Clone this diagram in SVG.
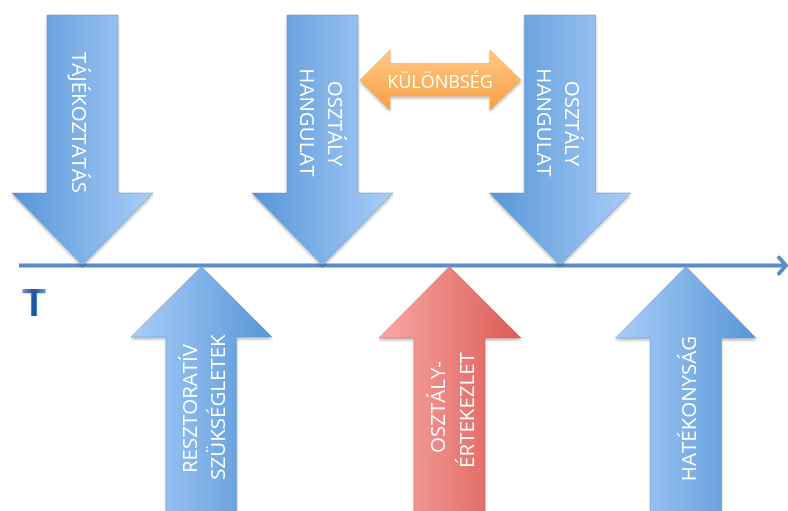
<svg xmlns="http://www.w3.org/2000/svg" width="788" height="511" viewBox="0 0 788 511">
<defs>
<linearGradient id="gDown" x1="0" y1="0" x2="1" y2="0">
<stop offset="0" stop-color="#5796d7"/>
<stop offset="1" stop-color="#a9cdf8"/>
</linearGradient>
<linearGradient id="gUp" x1="0" y1="0" x2="1" y2="0">
<stop offset="0" stop-color="#a9cdf8"/>
<stop offset="1" stop-color="#5796d7"/>
</linearGradient>
<linearGradient id="gRed" x1="0" y1="0" x2="1" y2="0">
<stop offset="0" stop-color="#f9a8a6"/>
<stop offset="1" stop-color="#dc5b54"/>
</linearGradient>
<linearGradient id="gOrange" x1="0" y1="0" x2="0" y2="1">
<stop offset="0" stop-color="#ffc88a"/>
<stop offset="1" stop-color="#f9a040"/>
</linearGradient>
<linearGradient id="gT" x1="0" y1="0" x2="1" y2="0">
<stop offset="0" stop-color="#6a9ee0"/>
<stop offset="0.5" stop-color="#1f4f9e"/>
<stop offset="1" stop-color="#6a9ee0"/>
</linearGradient>
<filter id="sh" x="-10%" y="-10%" width="120%" height="120%">
<feGaussianBlur in="SourceAlpha" stdDeviation="1.5"/>
<feOffset dx="0" dy="1.5" result="b"/>
<feComponentTransfer><feFuncA type="linear" slope="0.3"/></feComponentTransfer>
<feMerge><feMergeNode/><feMergeNode in="SourceGraphic"/></feMerge>
</filter>
</defs>
<style>
.blueD{fill:url(#gDown);stroke:#5a90cf;stroke-width:0.8;stroke-opacity:0.6}
.blueU{fill:url(#gUp);stroke:#5a90cf;stroke-width:0.8;stroke-opacity:0.6}
.red{fill:url(#gRed);stroke:#c9504a;stroke-width:0.8;stroke-opacity:0.5}
.orange{fill:url(#gOrange);stroke:#f39a3a;stroke-width:0.8;stroke-opacity:0.6}
.lbl{font-family:"Open Sans","Liberation Sans",sans-serif;font-size:20.5px;fill:#ffffff;text-anchor:middle}
.axis{stroke:#5b8dcb;stroke-width:4;fill:none}
</style>
<rect width="788" height="511" fill="#ffffff"/>

<g id="connectors">
<line class="axis" x1="19" y1="265.5" x2="785" y2="265.5"/>
<polyline class="axis" points="779,257.5 786,265.5 779,273.5" stroke-linecap="round" stroke-linejoin="round"/>
</g>

<g id="axis-label">
<text x="22" y="316" font-family="Liberation Sans, sans-serif" font-weight="bold" font-size="39" fill="url(#gT)">T</text>
</g>

<g id="tajekoztatas" filter="url(#sh)">
<polygon class="blueD" points="47,15 118,15 118,193 153,193 82.5,265 12,193 47,193"/>
<text class="lbl" transform="translate(72,122.5) rotate(90)">TÁJÉKOZTATÁS</text>
</g>

<g id="osztaly-hangulat-1" filter="url(#sh)">
<polygon class="blueD" points="287,15 358,15 358,193 393,193 322.5,265 252,193 287,193"/>
<text class="lbl" transform="translate(299.5,122.5) rotate(90)">HANGULAT</text>
<text class="lbl" transform="translate(327.5,123.5) rotate(90)">OSZTÁLY</text>
</g>

<g id="osztaly-hangulat-2" filter="url(#sh)">
<polygon class="blueD" points="524.5,15 595.5,15 595.5,193 630.5,193 560,265 489.5,193 524.5,193"/>
<text class="lbl" transform="translate(536.5,122.5) rotate(90)">HANGULAT</text>
<text class="lbl" transform="translate(564.5,123.5) rotate(90)">OSZTÁLY</text>
</g>

<g id="kulonbseg" filter="url(#sh)">
<polygon class="orange" points="360,80 390,50 390,63.5 490,63.5 490,50 521,80 490,110 490,96 390,96 390,110"/>
<text x="440" y="88" font-family="Open Sans, Liberation Sans, sans-serif" font-size="18" fill="#ffffff" text-anchor="middle">KÜLÖNBSÉG</text>
</g>

<g id="resztorativ" filter="url(#sh)">
<polygon class="blueU" points="201.5,266.5 272,337 236.5,337 236.5,520 166,520 166,337 131,337"/>
<text class="lbl" transform="translate(196.5,408.5) rotate(-90)">RESZTORATÍV</text>
<text class="lbl" transform="translate(225,407) rotate(-90)">SZÜKSÉGLETEK</text>
</g>

<g id="osztalyertekezlet" filter="url(#sh)">
<polygon class="red" points="449.5,266.5 521,338 485,338 485,520 414,520 414,338 379,338"/>
<text class="lbl" transform="translate(445,407) rotate(-90)">OSZTÁLY-</text>
<text class="lbl" transform="translate(474,410) rotate(-90)">ÉRTEKEZLET</text>
</g>

<g id="hatekonysag" filter="url(#sh)">
<polygon class="blueU" points="686,266.5 756,338 721.5,338 721.5,520 650.5,520 650.5,338 615.5,338"/>
<text class="lbl" transform="translate(695.5,408.5) rotate(-90)">HATÉKONYSÁG</text>
</g>
</svg>
